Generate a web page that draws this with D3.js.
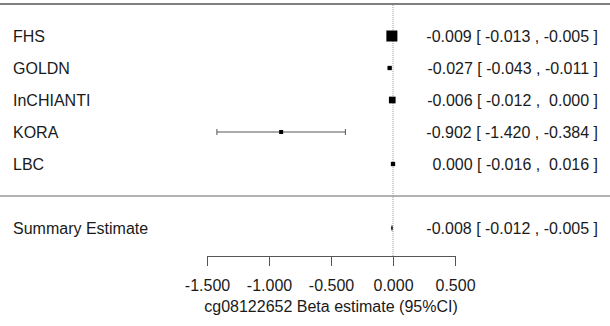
<!DOCTYPE html>
<html>
<head>
<meta charset="utf-8">
<script src="https://cdn.jsdelivr.net/npm/d3@7"></script>
<style>
  body { margin: 0; background: #fff; }
  svg text { font-family: "Liberation Sans", Arial, sans-serif; fill: #1a1a1a; white-space: pre; }
</style>
</head>
<body>
<div id="chart"></div>
<script>
const studies = ['FHS', 'GOLDN', 'InCHIANTI', 'KORA', 'LBC'];
const estimates = [-0.009, -0.027, -0.006, -0.902, 0.000];
const lower = [-0.013, -0.043, -0.012, -1.420, -0.016];
const upper = [-0.005, -0.011, 0.000, -0.384, 0.016];
const weights = [11, 4.3, 6.7, 4, 4.3];

const summaryLabel = 'Summary Estimate';
const summary = {est: -0.008, lo: -0.012, hi: -0.005};

const xTicks = [-1.5, -1.0, -0.5, 0.0, 0.5];
const xTitle = 'cg08122652 Beta estimate (95%CI)';

const width = 610, height = 326;
const fontSize = '16px';

const x = d3.scaleLinear()
    .domain([-1.5, 0.5])
    .range([207, 455]);

const y = d3.scalePoint()
    .domain(studies)
    .range([36, 164]);

const summaryY = 228,
      axisY = 256;

const fmt = v => v.toFixed(3).replace('−', '-');
const pad = v => (v < 0 ? '' : ' ') + fmt(v);
const ciText = (e, l, h) => `${fmt(e)} [ ${pad(l)} , ${pad(h)} ]`;

const data = studies.map((s, i) => ({
    name: s, est: estimates[i], lo: lower[i], hi: upper[i], w: weights[i]
}));

const svg = d3.select('#chart').append('svg')
    .attr('width', width)
    .attr('height', height);

// top rule and separator
svg.append('line')
    .attr('x1', 0).attr('x2', width)
    .attr('y1', 4).attr('y2', 4)
    .attr('stroke', '#555').attr('stroke-width', 1.5);

svg.append('line')
    .attr('x1', 0).attr('x2', width)
    .attr('y1', 196).attr('y2', 196)
    .attr('stroke', '#666').attr('stroke-width', 1);

// zero reference line
svg.append('line')
    .attr('x1', x(0)).attr('x2', x(0))
    .attr('y1', 5).attr('y2', axisY)
    .attr('stroke', '#999')
    .attr('stroke-width', 1)
    .attr('stroke-dasharray', '1,1');

// confidence intervals
const rows = svg.selectAll('.row')
    .data(data)
  .enter().append('g')
    .attr('class', 'row')
    .attr('transform', d => `translate(0,${y(d.name)})`);

rows.append('line')
    .attr('x1', d => x(d.lo)).attr('x2', d => x(d.hi))
    .attr('stroke', '#555').attr('stroke-width', 1);

rows.filter(d => x(d.hi) - x(d.lo) > d.w)
  .selectAll('.cap')
    .data(d => [d.lo, d.hi])
  .enter().append('line')
    .attr('class', 'cap')
    .attr('x1', d => x(d)).attr('x2', d => x(d))
    .attr('y1', -3).attr('y2', 3)
    .attr('stroke', '#555').attr('stroke-width', 1);

rows.append('rect')
    .attr('x', d => x(d.est) - d.w / 2)
    .attr('y', d => -d.w / 2)
    .attr('width', d => d.w)
    .attr('height', d => d.w)
    .attr('fill', '#000');

rows.append('text')
    .attr('x', 13)
    .attr('dy', '0.36em')
    .style('font-size', fontSize)
    .text(d => d.name);

rows.append('text')
    .attr('x', 598)
    .attr('dy', '0.36em')
    .attr('text-anchor', 'end')
    .style('font-size', fontSize)
    .text(d => ciText(d.est, d.lo, d.hi));

// summary diamond
const dh = 3.5;
svg.append('path')
    .attr('d', `M${x(summary.lo) - 0.5},${summaryY} L${x(summary.est)},${summaryY - dh} L${x(summary.hi) + 0.5},${summaryY} L${x(summary.est)},${summaryY + dh} Z`)
    .attr('fill', '#000');

svg.append('text')
    .attr('x', 13).attr('y', summaryY)
    .attr('dy', '0.36em')
    .style('font-size', fontSize)
    .text(summaryLabel);

svg.append('text')
    .attr('x', 598).attr('y', summaryY)
    .attr('dy', '0.36em')
    .attr('text-anchor', 'end')
    .style('font-size', fontSize)
    .text(ciText(summary.est, summary.lo, summary.hi));

// axis
const xAxis = d3.axisBottom(x)
    .tickValues(xTicks)
    .tickSize(10)
    .tickSizeOuter(0)
    .tickPadding(14)
    .tickFormat(fmt);

const ax = svg.append('g')
    .attr('transform', `translate(0,${axisY})`)
    .call(xAxis);

ax.select('.domain').attr('stroke', '#555');
ax.selectAll('.tick line').attr('stroke', '#555');
ax.selectAll('.tick text')
    .style('font-size', fontSize)
    .attr('fill', '#1a1a1a');

svg.append('text')
    .attr('x', (x.range()[0] + x.range()[1]) / 2)
    .attr('y', 312)
    .attr('text-anchor', 'middle')
    .style('font-size', fontSize)
    .text(xTitle);
</script>
</body>
</html>
